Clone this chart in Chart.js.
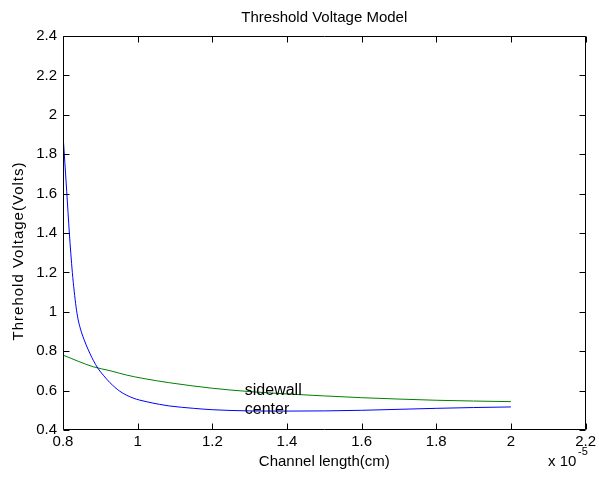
<!DOCTYPE html>
<html><head><meta charset="utf-8">
<script src="https://cdn.jsdelivr.net/npm/chart.js@4/dist/chart.umd.min.js"></script>
<style>html,body{margin:0;padding:0;background:#fff}</style>
</head><body>
<canvas id="c" width="599" height="478" style="display:block;width:599px;height:478px"></canvas>
<script>
// ---- data ----
const centerX = [0.8, 0.81, 0.817, 0.825, 0.83, 0.835, 0.84, 0.845, 0.85, 0.856, 0.862, 0.867, 0.874, 0.881, 0.894, 0.908, 0.926, 0.952, 0.988, 1.023, 1.059, 1.085, 1.15, 1.2, 1.3, 1.4, 1.5, 1.6, 1.7, 1.8, 1.9, 2.0];
const centerY = [1.9, 1.61, 1.4, 1.2, 1.105, 1.025, 0.965, 0.925, 0.893, 0.861, 0.832, 0.81, 0.781, 0.754, 0.712, 0.678, 0.64, 0.597, 0.562, 0.544, 0.53, 0.522, 0.51, 0.503, 0.497, 0.496, 0.497, 0.5, 0.505, 0.51, 0.514, 0.517];
const sidewallX = [0.8, 0.881, 0.926, 0.97, 1.014, 1.085, 1.2, 1.3, 1.4, 1.5, 1.6, 1.7, 1.8, 1.9, 2.0];
const sidewallY = [0.78, 0.721, 0.701, 0.679, 0.662, 0.64, 0.612, 0.595, 0.583, 0.573, 0.564, 0.557, 0.551, 0.547, 0.544];
const xTickValues = [0.8, 1.0, 1.2, 1.4, 1.6, 1.8, 2.0, 2.2];
const xTickLabels = ['0.8', '1', '1.2', '1.4', '1.6', '1.8', '2', '2.2'];
const yTickValues = [0.4, 0.6, 0.8, 1.0, 1.2, 1.4, 1.6, 1.8, 2.0, 2.2, 2.4];
const yTickLabels = ['0.4', '0.6', '0.8', '1', '1.2', '1.4', '1.6', '1.8', '2', '2.2', '2.4'];
const seriesNames = ['center', 'sidewall'];
const labelAnchorX = 1.287;
const labelAnchorY = [0.502, 0.598];
const titleText = 'Threshold Voltage Model';
const xTitle = 'Channel length(cm)';
const yTitle = 'Threhold Voltage(Volts)';
const xExponent = ['x 10', '-5'];

const FONT = '"Liberation Sans", Arial, Helvetica, sans-serif';
const toPts = (xs, ys) => xs.map((x, i) => ({x: x, y: ys[i]}));

const framePlugin = {
  id: 'frame',
  afterDraw(chart) {
    const {ctx, chartArea: a, scales} = chart;
    const xs = scales.x, ys = scales.y;
    ctx.save();
    ctx.strokeStyle = '#000';
    ctx.lineWidth = 1;
    ctx.beginPath();
    const L = Math.round(a.left) + 0.5, R = Math.round(a.right) - 0.5;
    const T = Math.round(a.top) + 0.5, B = Math.round(a.bottom) - 0.5;
    ctx.rect(L, T, R - L, B - T);
    const tl = 6;
    xTickValues.forEach(v => {
      const p = Math.round(xs.getPixelForValue(v)) + 0.5;
      ctx.moveTo(p, B); ctx.lineTo(p, B - tl);
      ctx.moveTo(p, T); ctx.lineTo(p, T + tl);
    });
    yTickValues.forEach(v => {
      const p = Math.round(ys.getPixelForValue(v)) + 0.5;
      ctx.moveTo(L, p); ctx.lineTo(L + tl, p);
      ctx.moveTo(R, p); ctx.lineTo(R - tl, p);
    });
    ctx.stroke();

    ctx.fillStyle = '#000';
    // curve labels
    ctx.font = '16px ' + FONT;
    ctx.textAlign = 'left';
    ctx.textBaseline = 'middle';
    seriesNames.forEach((n, i) => {
      ctx.fillText(n, xs.getPixelForValue(labelAnchorX), ys.getPixelForValue(labelAnchorY[i]));
    });
    // exponent
    ctx.font = '15px ' + FONT;
    ctx.fillText(xExponent[0], 548, 462);
    ctx.font = '11px ' + FONT;
    ctx.fillText(xExponent[1], 578, 452);
    // y title
    ctx.font = '15px ' + FONT;
    if ('letterSpacing' in ctx) ctx.letterSpacing = '1px';
    ctx.translate(19, 251);
    ctx.rotate(-Math.PI / 2);
    ctx.textAlign = 'center';
    ctx.fillText(yTitle, 0, 0);
    ctx.restore();
  }
};

new Chart(document.getElementById('c'), {
  type: 'scatter',
  data: {
    datasets: [
      {label: seriesNames[0], data: toPts(centerX, centerY), showLine: true, borderColor: '#0000ff', borderWidth: 1, pointRadius: 0, cubicInterpolationMode: 'monotone', fill: false},
      {label: seriesNames[1], data: toPts(sidewallX, sidewallY), showLine: true, borderColor: '#008000', borderWidth: 1, pointRadius: 0, cubicInterpolationMode: 'monotone', fill: false}
    ]
  },
  options: {
    responsive: false,
    animation: false,
    devicePixelRatio: 1,
    layout: {padding: {left: 0, right: 11, top: 0, bottom: 0}},
    plugins: {
      legend: {display: false},
      tooltip: {enabled: false},
      title: {display: true, text: titleText, fullSize: false, color: '#000',
        font: {family: FONT, size: 15, weight: 'normal'}, padding: {top: 9, bottom: 9}}
    },
    scales: {
      x: {
        type: 'linear', min: 0.8, max: 2.2,
        grid: {display: false, drawTicks: false},
        border: {display: false},
        afterBuildTicks: s => { s.ticks = xTickValues.map(v => ({value: v})); },
        afterFit: s => { s.height = 48; },
        ticks: {color: '#000', font: {family: FONT, size: 15}, padding: 3, autoSkip: false, maxRotation: 0,
          callback: (v) => { const i = xTickValues.findIndex(t => Math.abs(t - v) < 1e-9); return i >= 0 ? xTickLabels[i] : ''; }},
        title: {display: true, text: xTitle, color: '#000', font: {family: FONT, size: 15}, padding: {top: 0, bottom: 7}}
      },
      y: {
        type: 'linear', min: 0.4, max: 2.4,
        grid: {display: false, drawTicks: false},
        border: {display: false},
        afterBuildTicks: s => { s.ticks = yTickValues.map(v => ({value: v})); },
        afterFit: s => { s.width = 63; },
        ticks: {color: '#000', font: {family: FONT, size: 15}, padding: 6, autoSkip: false,
          callback: (v) => { const i = yTickValues.findIndex(t => Math.abs(t - v) < 1e-9); return i >= 0 ? yTickLabels[i] : ''; }}
      }
    }
  },
  plugins: [framePlugin]
});
</script>
</body></html>
